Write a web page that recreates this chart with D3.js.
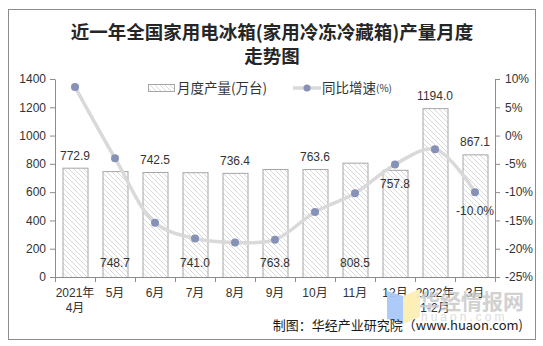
<!DOCTYPE html>
<html>
<head>
<meta charset="utf-8">
<script src="https://cdn.jsdelivr.net/npm/d3@7/dist/d3.min.js"></script>
<style>
  html, body { margin: 0; padding: 0; background: #fff; }
  svg { display: block; }
</style>
</head>
<body>
<div id="chart"></div>
<script>
// Monthly output of household refrigerators (万台) and year-on-year growth (%)
const months = ["2021年|4月", "5月", "6月", "7月", "8月", "9月", "10月", "11月", "12月", "2022年|1-2月", "3月"];
const production = [772.9, 748.7, 742.5, 741.0, 736.4, 763.8, 763.6, 808.5, 757.8, 1194.0, 867.1];
const growth = [8.6, -4.0, -15.4, -18.2, -18.9, -18.4, -13.5, -10.2, -5.1, -2.4, -10.0];
const leftTicks = [0, 200, 400, 600, 800, 1000, 1200, 1400];
const rightTicks = [10, 5, 0, -5, -10, -15, -20, -25];
// where each production label sits relative to its bar
const labelSide = ["above", "foot", "above", "foot", "above", "foot", "above", "foot", "inside", "above", "above"];
// growth values that carry a text label
const growthLabelled = [10];

const W = 543, H = 346;
const cjk = "'Noto Sans CJK SC', 'Liberation Sans', sans-serif";
const latin = "'Liberation Sans', Arial, 'Noto Sans CJK SC', sans-serif";

const svg = d3.select("#chart").append("svg")
  .attr("width", W).attr("height", H)
  .attr("viewBox", `0 0 ${W} ${H}`);

// hatch fill for the bars
const defs = svg.append("defs");
const pat = defs.append("pattern")
  .attr("id", "hatch").attr("patternUnits", "userSpaceOnUse")
  .attr("width", 5).attr("height", 5);
pat.append("rect").attr("width", 5).attr("height", 5).attr("fill", "#fff");
pat.append("path")
  .attr("d", "M0,0L5,5M-1,4L1,6M4,-1L6,1")
  .attr("stroke", "#d9d9d9").attr("stroke-width", 1);

// outer frame
svg.append("rect")
  .attr("x", 8.5).attr("y", 9.5).attr("width", 527).attr("height", 330)
  .attr("fill", "#fff").attr("stroke", "#8c8c8c").attr("stroke-width", 1);

// title
const title = svg.append("text")
  .attr("text-anchor", "middle")
  .attr("font-family", cjk).attr("font-weight", "bold")
  .attr("font-size", 18.5).attr("fill", "#262626");
title.append("tspan").attr("x", 272).attr("y", 39).text("近一年全国家用电冰箱(家用冷冻冷藏箱)产量月度");
title.append("tspan").attr("x", 272).attr("y", 63).text("走势图");

const x0 = 55, x1 = 495, yTop = 79, yBot = 277;

const x = d3.scaleBand().domain(d3.range(months.length)).range([x0, x1]).paddingInner(0.375).paddingOuter(0.1875);
const band = d3.scaleBand().domain(d3.range(months.length)).range([x0, x1]);
const yL = d3.scaleLinear().domain([0, 1400]).range([yBot, yTop]);
const yR = d3.scaleLinear().domain([-25, 10]).range([yBot, yTop]);

const axisColor = "#8c8c8c";
function styleAxis(g) {
  g.selectAll(".domain").attr("stroke", axisColor);
  g.selectAll(".tick line").attr("stroke", axisColor);
  g.selectAll(".tick text").attr("fill", "#333").attr("font-family", latin).attr("font-size", 12);
}

// left axis
const gL = svg.append("g").attr("transform", `translate(${x0},0)`)
  .call(d3.axisLeft(yL).tickValues(leftTicks).tickSize(5).tickSizeOuter(0).tickPadding(4)
    .tickFormat(d3.format("d")));
styleAxis(gL);

// right axis
const gR = svg.append("g").attr("transform", `translate(${x1},0)`)
  .call(d3.axisRight(yR).tickValues(rightTicks).tickSize(5).tickSizeOuter(0).tickPadding(5)
    .tickFormat(d => d + "%"));
styleAxis(gR);

// bars
svg.append("g").selectAll("rect").data(production).join("rect")
  .attr("x", (d, i) => x(i) + 0.5)
  .attr("y", d => yL(d) + 0.5)
  .attr("width", x.bandwidth())
  .attr("height", d => yBot - yL(d))
  .attr("fill", "url(#hatch)")
  .attr("stroke", "#a6a6a6").attr("stroke-width", 1);

// bottom axis with ticks at band edges
const gX = svg.append("g").attr("transform", `translate(0,${yBot})`);
gX.append("line").attr("x1", x0).attr("x2", x1).attr("y1", 0.5).attr("y2", 0.5).attr("stroke", axisColor);
gX.selectAll("line.tk").data(d3.range(months.length + 1)).join("line")
  .attr("class", "tk")
  .attr("x1", i => Math.round(x0 + i * band.bandwidth()) + 0.5)
  .attr("x2", i => Math.round(x0 + i * band.bandwidth()) + 0.5)
  .attr("y1", 0).attr("y2", 5).attr("stroke", axisColor);
const xl = gX.selectAll("text").data(months).join("text")
  .attr("text-anchor", "middle")
  .attr("font-family", latin).attr("font-size", 12).attr("fill", "#333");
xl.each(function (d, i) {
  const parts = d.split("|");
  const cx = band(i) + band.bandwidth() / 2;
  parts.forEach((p, k) => {
    d3.select(this).append("tspan").attr("x", cx).attr("y", 20 + k * 15).text(p);
  });
});

// production labels
svg.append("g").selectAll("text").data(production).join("text")
  .attr("x", (d, i) => x(i) + x.bandwidth() / 2)
  .attr("y", (d, i) => labelSide[i] === "above" ? yL(d) - 8 : labelSide[i] === "inside" ? yL(d) + 18 : yBot - 10)
  .attr("text-anchor", "middle")
  .attr("font-family", latin).attr("font-size", 12).attr("fill", "#333")
  .text(d => d.toFixed(1));

// growth line
const line = d3.line()
  .x((d, i) => x(i) + x.bandwidth() / 2)
  .y(d => yR(d))
  .curve(d3.curveCatmullRom.alpha(0.5));
svg.append("path").datum(growth)
  .attr("d", line)
  .attr("fill", "none").attr("stroke", "#d9d9d9").attr("stroke-width", 3.5)
  .attr("stroke-linejoin", "round");
svg.append("g").selectAll("circle").data(growth).join("circle")
  .attr("cx", (d, i) => x(i) + x.bandwidth() / 2)
  .attr("cy", d => yR(d))
  .attr("r", 4)
  .attr("fill", "#8591b6");

// growth labels
svg.append("g").selectAll("text").data(growthLabelled).join("text")
  .attr("x", i => x(i) + x.bandwidth() / 2)
  .attr("y", i => yR(growth[i]) + 23)
  .attr("text-anchor", "middle")
  .attr("font-family", latin).attr("font-size", 12).attr("fill", "#333")
  .text(i => growth[i].toFixed(1) + "%");

// legend
const lg = svg.append("g");
lg.append("rect").attr("x", 148.5).attr("y", 84.5).attr("width", 26).attr("height", 7)
  .attr("fill", "url(#hatch)").attr("stroke", "#a6a6a6");
lg.append("text").attr("x", 177).attr("y", 93)
  .attr("font-family", cjk).attr("font-size", 13.5).attr("fill", "#333")
  .text("月度产量(万台)");
lg.append("line").attr("x1", 293).attr("x2", 321).attr("y1", 88).attr("y2", 88)
  .attr("stroke", "#d9d9d9").attr("stroke-width", 3.5);
lg.append("circle").attr("cx", 307).attr("cy", 88).attr("r", 3.5).attr("fill", "#8591b6");
const lt = lg.append("text").attr("x", 322).attr("y", 93)
  .attr("font-family", cjk).attr("font-size", 13.5).attr("fill", "#333");
lt.append("tspan").text("同比增速");
lt.append("tspan").attr("font-size", 10).attr("dy", -1).text("(%)");

// site mark
const wm = svg.append("g");
wm.append("path").attr("d", "M387,291L403,296L403,324L387,319Z").attr("fill", "#a8c8f8").attr("opacity", 0.95);
wm.append("path").attr("d", "M403,296L420,289L420,317L403,324Z").attr("fill", "#fcefb4").attr("opacity", 0.95);
wm.append("text").attr("x", 419).attr("y", 309)
  .attr("font-family", cjk).attr("font-weight", "bold").attr("font-size", 21)
  .attr("fill", "#c9c9c9").attr("opacity", 0.85).text("华经情报网");
wm.append("text").attr("x", 421).attr("y", 321)
  .attr("font-family", latin).attr("font-size", 12).attr("letter-spacing", 3)
  .attr("fill", "#dcdcdc").text("huaon.com");

// source
svg.append("text").attr("x", 523).attr("y", 330).attr("text-anchor", "end")
  .attr("font-family", cjk).attr("font-size", 13).attr("fill", "#1a1a1a")
  .text("制图：华经产业研究院（www.huaon.com)");
</script>
</body>
</html>
